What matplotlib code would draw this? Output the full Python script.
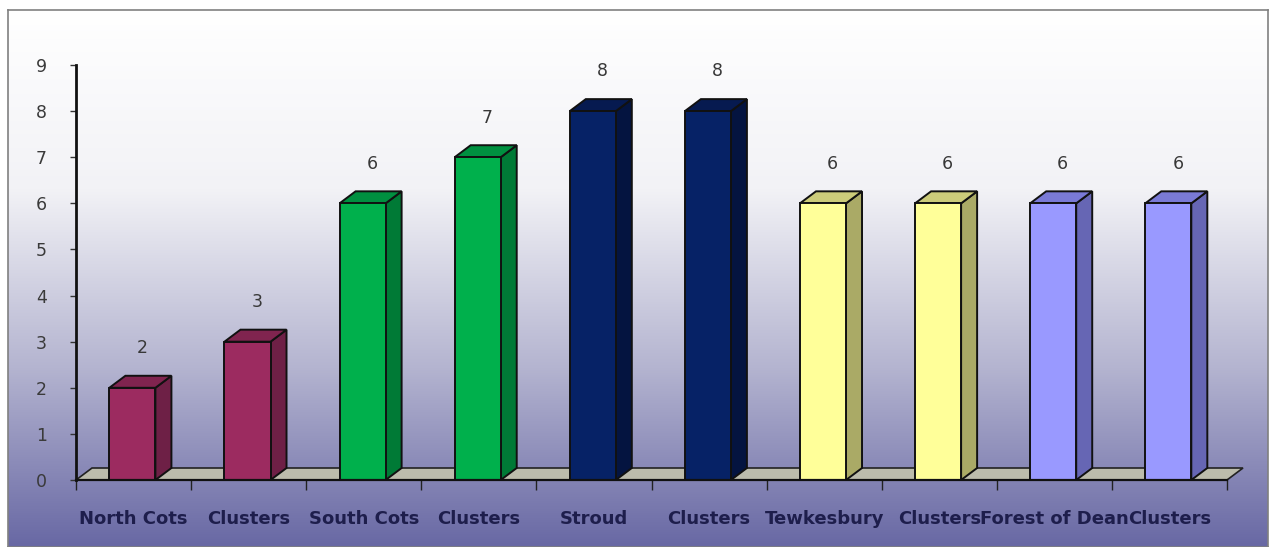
import numpy as np
import matplotlib
matplotlib.use("Agg")
import matplotlib.pyplot as plt
from matplotlib.patches import Polygon
from matplotlib.colors import LinearSegmentedColormap

categories = ["North Cots", "Clusters", "South Cots", "Clusters", "Stroud",
              "Clusters", "Tewkesbury", "Clusters", "Forest of Dean", "Clusters"]
values = [2, 3, 6, 7, 8, 8, 6, 6, 6, 6]
y_ticks = list(range(0, 10))

# front / side / top shades for each district pair
front_colors = ["#9c2b60", "#9c2b60", "#00b04c", "#00b04c", "#062266", "#062266",
                "#ffff99", "#ffff99", "#9999ff", "#9999ff"]
side_colors = ["#6e2046", "#6e2046", "#007a36", "#007a36", "#041440", "#041440",
               "#aaaa66", "#aaaa66", "#6666b4", "#6666b4"]
top_colors = ["#80244f", "#80244f", "#009040", "#009040", "#061a50", "#061a50",
              "#cccc7a", "#cccc7a", "#7a7ad6", "#7a7ad6"]

W, H = 1271, 547
fig = plt.figure(figsize=(W / 100, H / 100), dpi=100)

# gradient backdrop with a thin frame
bg = fig.add_axes([8 / W, 0, (1268 - 8) / W, (H - 10) / H])
grad = np.linspace(0, 1, 256).reshape(-1, 1)
cmap = LinearSegmentedColormap.from_list("bgfade", ["#ffffff", "#f2f2f6", "#b4b4d0", "#6868a4"])
bg.imshow(grad, aspect="auto", cmap=cmap, extent=[0, 1, 0, 1], origin="upper")
bg.set_xticks([])
bg.set_yticks([])
for s in bg.spines.values():
    s.set_color("#808080")
    s.set_linewidth(1.2)

# plotting area: x in category slots, y in counts
x0, x1, y0, y1 = 76, 1227, 480, 65
ax = fig.add_axes([x0 / W, (H - y0) / H, (x1 - x0) / W, (y0 - y1) / H])
ax.set_xlim(0, len(categories))
ax.set_ylim(0, 9)
ax.patch.set_alpha(0)

dx = 16 / ((x1 - x0) / len(categories))
dy = 12 / ((y0 - y1) / 9)
n = len(categories)

# floor slab
floor = Polygon([(0, 0), (n, 0), (n + dx, dy), (dx, dy)], closed=True,
                facecolor="#bcbcac", edgecolor="#222222", lw=1.2, clip_on=False, zorder=2)
ax.add_patch(floor)

bw = 0.40
for i, (v, fc, sc, tc) in enumerate(zip(values, front_colors, side_colors, top_colors)):
    L = i + 0.29
    R = L + bw
    side = Polygon([(R, 0), (R + dx, dy), (R + dx, v + dy), (R, v)], closed=True,
                   facecolor=sc, edgecolor="#111111", lw=1.4, clip_on=False, zorder=3)
    top = Polygon([(L, v), (R, v), (R + dx, v + dy), (L + dx, v + dy)], closed=True,
                  facecolor=tc, edgecolor="#111111", lw=1.4, clip_on=False, zorder=3)
    front = Polygon([(L, 0), (R, 0), (R, v), (L, v)], closed=True,
                    facecolor=fc, edgecolor="#111111", lw=1.4, clip_on=False, zorder=4)
    for p in (side, top, front):
        ax.add_patch(p)
    ax.text((L + R) / 2 + dx * 0.6, v + 0.86, str(v), ha="center", va="center",
            fontsize=12.5, color="#383838", family="DejaVu Sans", zorder=5)

# axes lines and ticks
for s in ("top", "right"):
    ax.spines[s].set_visible(False)
ax.spines["left"].set_linewidth(2)
ax.spines["left"].set_color("#111111")
ax.spines["bottom"].set_linewidth(1.6)
ax.spines["bottom"].set_color("#111111")
ax.spines["bottom"].set_zorder(5)

ax.set_yticks(y_ticks)
ax.set_yticklabels([str(t) for t in y_ticks], fontsize=12.5, color="#3a3a3a",
                   family="DejaVu Sans")
ax.tick_params(axis="y", length=4, width=1, pad=17, color="#333333")

ax.set_xticks(np.arange(0, n + 1))
ax.set_xticklabels([])
ax.tick_params(axis="x", length=7, width=1, color="#222222")
for i, c in enumerate(categories):
    ax.text(i + 0.5, -0.85, c, ha="center", va="center", fontsize=13,
            fontweight="bold", color="#1e1e4c", family="DejaVu Sans")

fig.savefig("out.png", dpi=100)
